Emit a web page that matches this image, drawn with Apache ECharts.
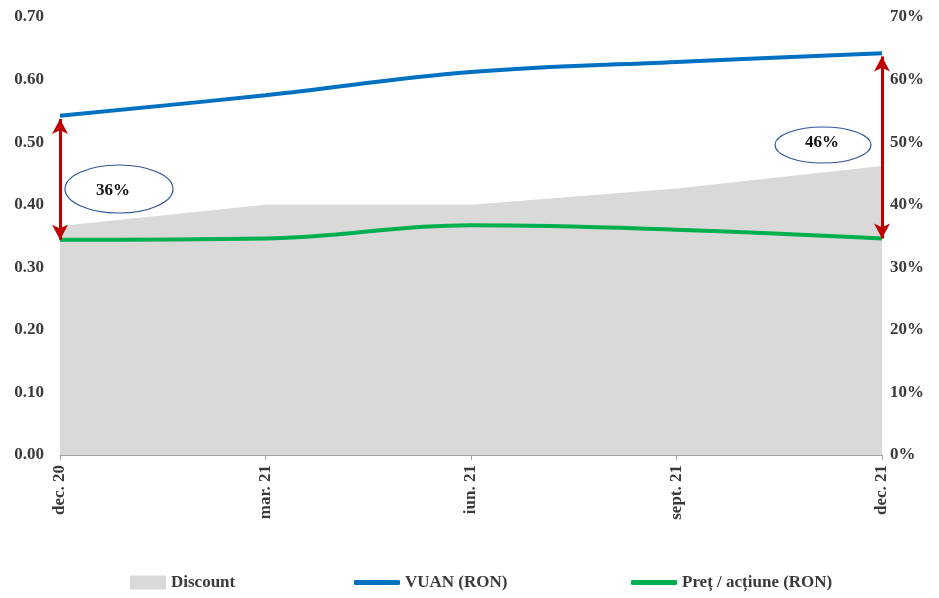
<!DOCTYPE html>
<html><head><meta charset="utf-8">
<script src="https://cdn.jsdelivr.net/npm/echarts@6/dist/echarts.min.js"></script>
<style>html,body{margin:0;padding:0;background:#fff}#c{width:939px;height:598px}</style>
</head><body><div id="c"></div>
<script>
var categories = ['dec. 20', 'mar. 21', 'iun. 21', 'sept. 21', 'dec. 21'];
var discount = [0.366, 0.40, 0.40, 0.426, 0.462];
var vuan = [0.542, 0.575, 0.612, 0.628, 0.642];
var price = [0.344, 0.346, 0.367, 0.360, 0.346];
var leftTicks = ['0.00','0.10','0.20','0.30','0.40','0.50','0.60','0.70'];
var rightTicks = ['0%','10%','20%','30%','40%','50%','60%','70%'];
var annotations = ['36%', '46%'];

var FONT = 'Liberation Serif';
var txt = {fontFamily: FONT, fontWeight: 'bold', fontSize: 17, color: '#3a3a3a'};
var chart = echarts.init(document.getElementById('c'));
chart.setOption({
  animation: false,
  textStyle: {fontFamily: FONT},
  grid: {left: 60, right: 57, top: 17, bottom: 143},
  xAxis: {
    type: 'category', data: categories, boundaryGap: false,
    axisLine: {lineStyle: {color: '#a6a6a6', width: 1}},
    axisTick: {show: true, alignWithLabel: true, length: 5, lineStyle: {color: '#a6a6a6'}},
    axisLabel: Object.assign({rotate: 90, margin: 10, interval: 0}, txt),
    splitLine: {show: false}
  },
  yAxis: [
    {type: 'value', min: 0, max: 0.7, interval: 0.1,
     axisLine: {show: false}, axisTick: {show: false}, splitLine: {show: false},
     axisLabel: Object.assign({margin: 16, formatter: function (v) { return leftTicks[Math.round(v * 10)]; }}, txt)},
    {type: 'value', min: 0, max: 0.7, interval: 0.1, position: 'right',
     axisLine: {show: false}, axisTick: {show: false}, splitLine: {show: false},
     axisLabel: Object.assign({margin: 8, formatter: function (v) { return rightTicks[Math.round(v * 10)]; }}, txt)}
  ],
  legend: [
    {data: [{name: 'Discount', icon: 'rect'}], left: 130, top: 574, padding: 0, itemWidth: 36, itemHeight: 14, textStyle: txt, selectedMode: false},
    {data: [{name: 'VUAN (RON)', icon: 'roundRect'}], left: 354, top: 574, padding: 0, itemWidth: 46, itemHeight: 5, textStyle: txt, selectedMode: false},
    {data: [{name: 'Preț / acțiune (RON)', icon: 'roundRect'}], left: 631, top: 574, padding: 0, itemWidth: 46, itemHeight: 5, textStyle: txt, selectedMode: false}
  ],
  series: [
    {name: 'Discount', type: 'line', yAxisIndex: 1, data: discount, symbol: 'none',
     lineStyle: {width: 0}, areaStyle: {color: '#d9d9d9', opacity: 1}, itemStyle: {color: '#d9d9d9'}, z: 1},
    {name: 'VUAN (RON)', type: 'line', yAxisIndex: 0, data: vuan, symbol: 'none', smooth: 0.4,
     lineStyle: {width: 4, color: '#0070c0'}, itemStyle: {color: '#0070c0'}, z: 3,
     markLine: {silent: true, symbol: ['arrow', 'arrow'], symbolSize: [12, 15],
       lineStyle: {color: '#c00000', width: 3, type: 'solid'}, label: {show: false},
       data: [
         [{coord: [categories[0], vuan[0] - 0.005]}, {coord: [categories[0], price[0]]}],
         [{coord: [categories[4], vuan[4] - 0.005]}, {coord: [categories[4], price[4]]}]
       ]}},
    {name: 'Preț / acțiune (RON)', type: 'line', yAxisIndex: 0, data: price, symbol: 'none', smooth: 0.4,
     lineStyle: {width: 4, color: '#00b050'}, itemStyle: {color: '#00b050'}, z: 3}
  ],
  graphic: [
    {type: 'ellipse', shape: {cx: 119, cy: 189, rx: 54, ry: 24}, style: {fill: 'rgba(255,255,255,0)', stroke: '#2f5597', lineWidth: 1.2}, z: 10},
    {type: 'text', x: 113, y: 191, style: {text: annotations[0], font: 'bold 17px "Liberation Serif"', fill: '#111', align: 'center', verticalAlign: 'middle'}, z: 11},
    {type: 'ellipse', shape: {cx: 823, cy: 145, rx: 48, ry: 18}, style: {fill: 'rgba(255,255,255,0)', stroke: '#2f5597', lineWidth: 1.2}, z: 10},
    {type: 'text', x: 822, y: 143, style: {text: annotations[1], font: 'bold 17px "Liberation Serif"', fill: '#111', align: 'center', verticalAlign: 'middle'}, z: 11}
  ]
});
</script></body></html>
